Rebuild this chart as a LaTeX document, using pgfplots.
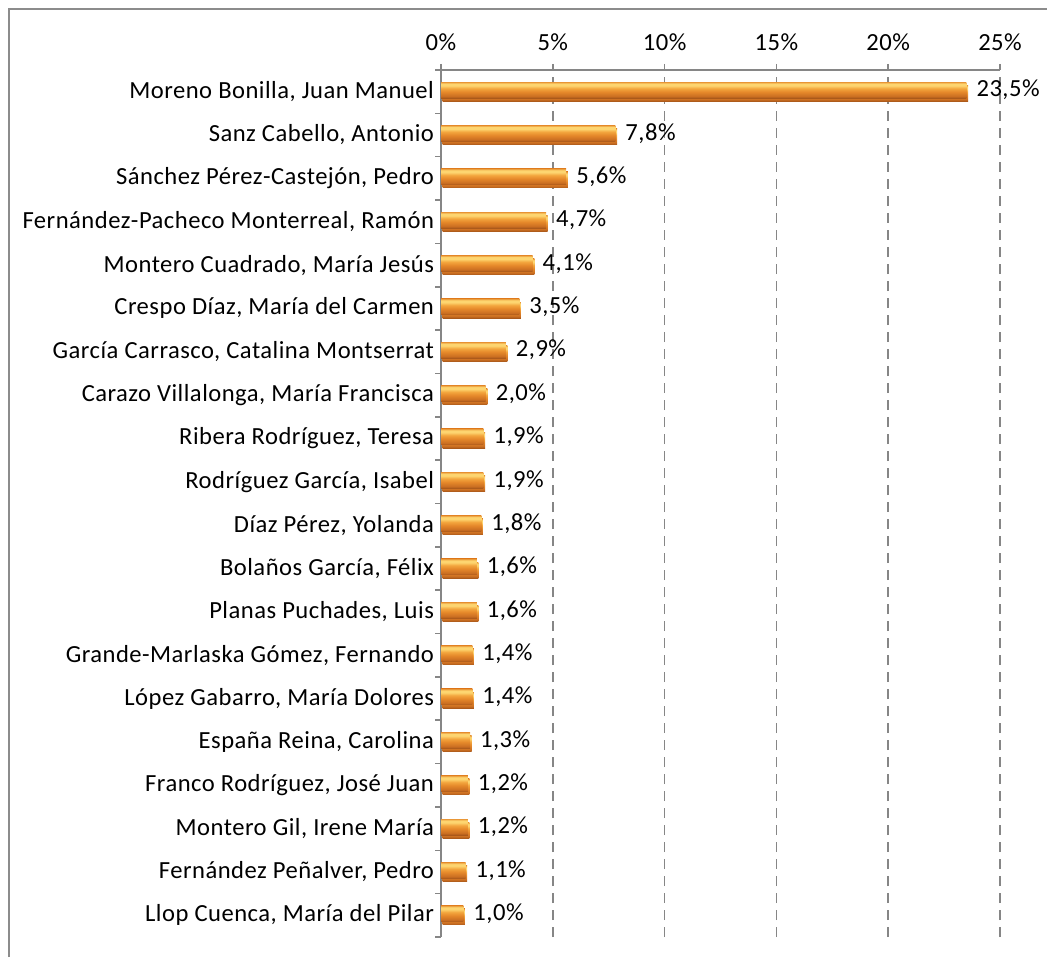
\documentclass[border=0pt]{standalone}
\usepackage{fontspec}
\setmainfont{Carlito}[LetterSpace=2]
\usepackage{pgfplots}
\pgfplotsset{compat=1.18}

\definecolor{axisgray}{HTML}{868686}
\definecolor{framegray}{HTML}{8C8C8C}
\definecolor{barlow}{HTML}{A9581A}
\definecolor{bardark}{HTML}{CB6F22}
\definecolor{barmid}{HTML}{E5882A}
\definecolor{barlight}{HTML}{F3A63E}
\definecolor{barhigh}{HTML}{FDD570}
\definecolor{bartop}{HTML}{E99838}

% glossy orange bar, colours from bottom to top
\pgfdeclareverticalshading{barshade}{100bp}{%
  color(0bp)=(barlow);
  color(25bp)=(barlow);
  color(31bp)=(bardark);
  color(44bp)=(barmid);
  color(55bp)=(barlight);
  color(64bp)=(barhigh);
  color(70bp)=(barhigh);
  color(75bp)=(bartop);
  color(100bp)=(bartop)}

\pgfplotsset{
  glossybar/.style={
    draw=none, shade, shading=barshade, forget plot,
    preaction={fill=black!16, draw=none, transform canvas={xshift=0.8pt, yshift=-1.6pt}},
    point meta=x,
    nodes near coords={\pgfmathprintnumber[fixed, fixed zerofill, precision=1, use comma]{\pgfplotspointmeta}\%},
    every node near coord/.append style={font=\fontsize{12.3}{14}\selectfont, text=black, anchor=west, xshift=1.5pt},
  }
}

\begin{document}
\begin{tikzpicture}
\begin{axis}[
  at={(220.5pt,-468.5pt)}, anchor=south west,
  scale only axis,
  width=279.5pt, height=433.5pt,
  xbar, bar width=8pt, bar shift=0.8pt,
  xmin=0, xmax=25,
  ymin=0.5, ymax=20.5,
  axis x line=top, axis y line=left,
  axis line style={-, axisgray, line width=0.8pt},
  tick align=outside,
  xtick={0,5,...,25},
  xticklabel={\pgfmathprintnumber{\tick}\%},
  xticklabel style={yshift=3pt},
  xmajorgrids,
  major x grid style={axisgray, line width=0.8pt, dash pattern=on 5pt off 3.5pt},
  ytick={0.5,1.5,...,20.5},
  yticklabels={},
  major tick length=3pt,
  tick style={axisgray, line width=0.8pt},
  extra y ticks={1,...,20},
  extra y tick style={major tick length=0pt},
  extra y tick labels={
    {Llop Cuenca, María del Pilar},
    {Fernández Peñalver, Pedro},
    {Montero Gil, Irene María},
    {Franco Rodríguez, José Juan},
    {España Reina, Carolina},
    {López Gabarro, María Dolores},
    {Grande-Marlaska Gómez, Fernando},
    {Planas Puchades, Luis},
    {Bolaños García, Félix},
    {Díaz Pérez, Yolanda},
    {Rodríguez García, Isabel},
    {Ribera Rodríguez, Teresa},
    {Carazo Villalonga, María Francisca},
    {García Carrasco, Catalina Montserrat},
    {Crespo Díaz, María del Carmen},
    {Montero Cuadrado, María Jesús},
    {Fernández-Pacheco Monterreal, Ramón},
    {Sánchez Pérez-Castejón, Pedro},
    {Sanz Cabello, Antonio},
    {Moreno Bonilla, Juan Manuel}},
  tick label style={font=\fontsize{12.3}{14}\selectfont, text=black},
  /pgf/number format/assume math mode=true,
  clip=false,
]
% one plot per bar so that every bar gets its own shading
\addplot[glossybar] coordinates {(23.5,20)};
\addplot[glossybar] coordinates {(7.8,19)};
\addplot[glossybar] coordinates {(5.6,18)};
\addplot[glossybar] coordinates {(4.7,17)};
\addplot[glossybar] coordinates {(4.1,16)};
\addplot[glossybar] coordinates {(3.5,15)};
\addplot[glossybar] coordinates {(2.9,14)};
\addplot[glossybar] coordinates {(2.0,13)};
\addplot[glossybar] coordinates {(1.9,12)};
\addplot[glossybar] coordinates {(1.9,11)};
\addplot[glossybar] coordinates {(1.8,10)};
\addplot[glossybar] coordinates {(1.6,9)};
\addplot[glossybar] coordinates {(1.6,8)};
\addplot[glossybar] coordinates {(1.4,7)};
\addplot[glossybar] coordinates {(1.4,6)};
\addplot[glossybar] coordinates {(1.3,5)};
\addplot[glossybar] coordinates {(1.2,4)};
\addplot[glossybar] coordinates {(1.2,3)};
\addplot[glossybar] coordinates {(1.1,2)};
\addplot[glossybar] coordinates {(1.0,1)};
\end{axis}
\draw[framegray, line width=1pt] (4.5pt,-478.5pt) -- (4.5pt,-4.5pt) -- (523.5pt,-4.5pt);
\pgfresetboundingbox
\useasboundingbox (0pt,0pt) rectangle (523.5pt,-478.5pt);
\end{tikzpicture}
\end{document}
